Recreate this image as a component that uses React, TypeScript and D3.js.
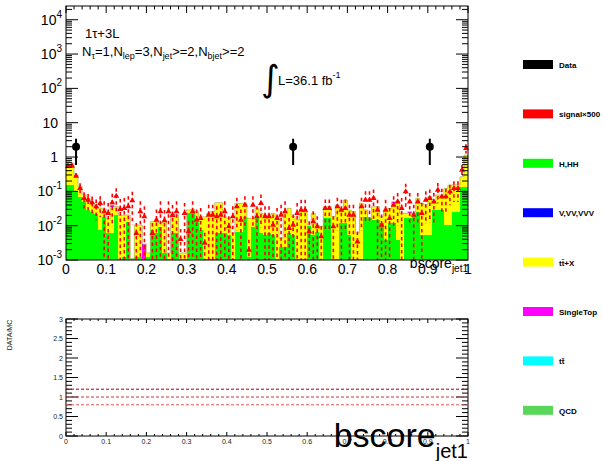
import React from "react";
import * as d3 from "d3";

const W = 603;
const H = 461;

// bin edges: 100 bins of 0.01 over [0,1]
const nBins = 100;
const binWidth = 0.01;

// H,HH (bottom of stack)
const hhh = [
  0.154, 0.154, 0.098, 0.07, 0.05, 0.029, 0.025, 0.022, 0.0075, 0.018,
  0.006, 0.006, 0.02, 0.0011, 0.0012, 0.013, 0.0011, 0.0012, 0.0012, 0.0011,
  0.0012, 0.0075, 0.006, 0.009, 0.0016, 0.0011, 0.006, 0.006, 0.0011, 0.0011,
  0.0229, 0.0229, 0.0131, 0.0075, 0.0011, 0.0011, 0.0011, 0.006, 0.006, 0.006,
  0.0054, 0.0011, 0.0067, 0.0067, 0.0183, 0.00125, 0.0094, 0.0183, 0.006, 0.0054,
  0.006, 0.0054, 0.0011, 0.0024, 0.0024, 0.006, 0.0054, 0.0011, 0.0011, 0.0011,
  0.0095, 0.0054, 0.0067, 0.0011, 0.0164, 0.0164, 0.0011, 0.0011, 0.0117, 0.0117,
  0.0054, 0.0011, 0.0011, 0.0011, 0.0183, 0.0164, 0.0147, 0.0147, 0.0117, 0.0038,
  0.0117, 0.0117, 0.0038, 0.0011, 0.0164, 0.0164, 0.02, 0.0256, 0.0054, 0.0054,
  0.0054, 0.0287, 0.0287, 0.0287, 0.0105, 0.0105, 0.0256, 0.0256, 0.137, 0.137,
];

// ttbar+X (stacked on H,HH)
const ttx = [
  0.59, 0.51, 0.2, 0.067, 0.029, 0.034, 0.022, 0.014, 0.025, 0.012,
  0.01, 0.03, 0.016, 0.019, 0.019, 0.0075, 0, 0.0093, 0.0093, 0,
  0.0004, 0.0056, 0.0071, 0.003, 0.0115, 0.0005, 0.0145, 0.0145, 0.0005, 0.0005,
  0.0058, 0.0071, 0.0125, 0.011, 0.017, 0.022, 0.025, 0.041, 0.041, 0.012,
  0.011, 0.005, 0.038, 0.038, 0.027, 0.015, 0.007, 0.014, 0.017, 0.013,
  0.0145, 0.0175, 0.017, 0.0019, 0.023, 0.026, 0.013, 0.0136, 0.0245, 0.0245,
  0.001, 0.0175, 0.0038, 0.0084, 0.0196, 0.0196, 0.0172, 0.039, 0.014, 0.044,
  0.023, 0.0246, 0.005, 0.044, 0.0104, 0.0005, 0.021, 0.021, 0.0066, 0.025,
  0.02, 0.033, 0.046, 0.022, 0.0065, 0.007, 0.003, 0.037, 0.04, 0.035,
  0.065, 0.021, 0.05, 0.05, 0.11, 0.14, 0.13, 0.13, 0.13, 1.0,
];

// SingleTop (top of stack)
const singleTop = [
  0, 0, 0, 0, 0, 0, 0, 0, 0, 0,
  0, 0.004, 0, 0, 0, 0, 0, 0, 0, 0.0018,
  0, 0, 0, 0, 0, 0, 0.0015, 0, 0, 0,
  0, 0, 0, 0, 0, 0, 0, 0, 0, 0,
  0, 0, 0, 0, 0, 0, 0, 0, 0, 0.002,
  0, 0, 0, 0, 0, 0, 0, 0, 0, 0,
  0, 0, 0, 0, 0, 0, 0, 0, 0, 0,
  0, 0, 0, 0, 0, 0, 0, 0, 0, 0,
  0, 0.005, 0, 0, 0, 0.0022, 0, 0, 0, 0,
  0, 0, 0, 0, 0, 0, 0, 0, 0, 0,
];

// signal x500
const signal = [
  0.55, 0.55, 0.28, 0.123, 0.063, 0.056, 0.047, 0.036, 0.045, 0.0256,
  0.0229, 0.047, 0.073, 0.03, 0.032, 0.036, 0.054, 0.006, 0.0256, 0.0183,
  0, 0.006, 0.0147, 0.0256, 0.0142, 0.0256, 0.02, 0.0256, 0.004, 0.0229,
  0.0067, 0.0256, 0.0147, 0.0164, 0.0031, 0.0205, 0.0205, 0.0183, 0.0205, 0.0256,
  0.0094, 0.0183, 0.036, 0.0147, 0.04, 0.00196, 0.04, 0.0183, 0.045, 0.0183,
  0.0183, 0.0105, 0.0164, 0.0205, 0.0256, 0.0084, 0.0105, 0.0229, 0.0287, 0.0287,
  0.0067, 0.0131, 0.0094, 0.0048, 0.032, 0.032, 0.0094, 0.036, 0.0287, 0.032,
  0.0205, 0.0205, 0.0034, 0.036, 0.056, 0.056, 0.063, 0.0287, 0.0105, 0.0287,
  0.0164, 0.04, 0.05, 0.032, 0.098, 0.05, 0.0205, 0.05, 0.0229, 0.056,
  0.063, 0.05, 0.11, 0.07, 0.07, 0.098, 0.123, 0.123, 0.42, 1.8,
];

// relative uncertainty of the signal
const signalRelErr = [
  0.15, 0.15, 0.2, 0.4, 0.5, 0.5, 0.5, 0.6, 0.6, 1,
  1, 0.8, 0.7, 1, 1, 1, 0.8, 1, 1, 1,
  1, 1, 1, 1, 1, 1, 1, 1, 1, 1,
  1, 1, 1, 1, 1, 1, 1, 1, 1, 1,
  1, 1, 0.8, 1, 0.8, 1, 0.8, 1, 0.8, 1,
  1, 1, 1, 1, 1, 1, 1, 1, 1, 1,
  1, 1, 1, 1, 0.8, 0.8, 1, 0.8, 1, 0.8,
  1, 1, 1, 0.8, 0.8, 0.8, 0.8, 1, 1, 1,
  1, 0.8, 0.8, 1, 0.7, 0.8, 1, 0.8, 1, 0.8,
  0.8, 0.8, 0.6, 0.7, 0.7, 0.6, 0.6, 0.6, 0.4, 0.3,
];

// data: bins holding events
const dataBins = [2, 56, 90];
const dataCounts = [2, 2, 2];

const upperXTicks = [0, 0.1, 0.2, 0.3, 0.4, 0.5, 0.6, 0.7, 0.8, 0.9, 1];
const upperXTickLabels = ["0", "0.1", "0.2", "0.3", "0.4", "0.5", "0.6", "0.7", "0.8", "0.9", "1"];
const decades = [-3, -2, -1, 0, 1, 2, 3, 4];
const lowerYTicks = [0, 0.5, 1, 1.5, 2, 2.5, 3];
const lowerYTickLabels = ["0", "0.5", "1", "1.5", "2", "2.5", "3"];
const ratioLines = [1.2, 1.0, 0.8];
const ratioLineColors = ["#a00000", "#d83030", "#f05050"];

const legendLabels = ["Data", "signal×500", "H,HH", "V,VV,VVV", "tt\u0304+X", "SingleTop", "tt\u0304", "QCD"];
const legendColors = ["#000000", "#ff0000", "#00ff00", "#0000ff", "#ffff00", "#ff00ff", "#00ffff", "#5ad75a"];

const FONT = "'Liberation Sans', Arial, Helvetica, sans-serif";

export default function App() {
  const xU = d3.scaleLinear().domain([0, 1]).range([66, 468]);
  const yMin = 1e-3;
  const yU = d3.scaleLog().domain([yMin, Math.pow(10, 4.4)]).range([260, 6]).clamp(true);
  const yL = d3.scaleLinear().domain([0, 3]).range([436, 319]);

  const bins = d3.range(nBins);
  const table = bins.map((i) => ({ hhh: hhh[i], ttx: ttx[i], st: singleTop[i] }));
  const stack = d3.stack<any>().keys(["hhh", "ttx", "st"])(table);
  const stackColors = ["#00ff00", "#ffff00", "#ff00ff"];

  const yv = (v: number) => yU(Math.max(v, yMin));

  // outline of the total stack
  const outlinePts: [number, number][] = [];
  bins.forEach((i) => {
    const tot = hhh[i] + ttx[i] + singleTop[i];
    outlinePts.push([xU(i * binWidth), yv(tot)]);
    outlinePts.push([xU((i + 1) * binWidth), yv(tot)]);
  });
  const outline = d3.line()(outlinePts) || "";

  // ticks for upper log axis
  const logTicks: { v: number; major: boolean }[] = [];
  decades.forEach((d) => {
    for (let k = 1; k <= 9; k++) {
      const v = k * Math.pow(10, d);
      if (v <= Math.pow(10, 4.4)) logTicks.push({ v, major: k === 1 });
    }
  });
  const xMinor = d3.range(0, 1.0001, 0.02);
  const yLMinor = d3.range(0, 3.0001, 0.1);

  const triangle = d3.symbol().type(d3.symbolTriangle).size(15)() || "";

  return (
    <svg width={W} height={H} style={{ position: "absolute", left: 0, top: 0, background: "#fff" }} fontFamily={FONT}>
      <rect x={0} y={0} width={W} height={H} fill="#fff" />

      {/* upper x-axis title (drawn under the histograms) */}
      <text x={468} y={268} textAnchor="end" fontSize={14} fill="#000">
        bscore<tspan fontSize={10} dy={4}>jet1</tspan>
      </text>

      {/* stacked histograms */}
      {stack.map((layer, li) => (
        <g key={li} fill={stackColors[li]}>
          {layer.map((d, i) => {
            const lo = Math.max(d[0], yMin);
            const hi = d[1];
            if (hi <= lo) return null;
            const x0 = xU(i * binWidth);
            const x1 = xU((i + 1) * binWidth);
            return <rect key={i} x={x0} width={x1 - x0} y={yU(hi)} height={yU(lo) - yU(hi)} shapeRendering="crispEdges" />;
          })}
        </g>
      ))}
      <path d={outline} fill="none" stroke="#b4ae6a" strokeWidth={0.8} />

      {/* signal x500 */}
      <g stroke="#ff0000" fill="#ff0000">
        {bins.map((i) => {
          const v = signal[i];
          if (v <= 0) return null;
          const xc = xU((i + 0.5) * binWidth);
          const e = v * signalRelErr[i];
          const yTop = yv(v + e);
          const yBot = v - e > 0 ? yv(v - e) : yU(yMin);
          return (
            <g key={i}>
              <line x1={xc} x2={xc} y1={yTop} y2={yBot} strokeWidth={1.6} strokeDasharray="3.5,3" />
              <line x1={xU(i * binWidth) + 0.3} x2={xU((i + 1) * binWidth) - 0.3} y1={yU(v)} y2={yU(v)} strokeWidth={1.2} />
              <path d={triangle} transform={`translate(${xc},${yU(v)})`} stroke="none" />
            </g>
          );
        })}
      </g>

      {/* data */}
      <g>
        {dataBins.map((b, j) => {
          const n = dataCounts[j];
          const xc = xU((b + 0.5) * binWidth);
          return (
            <g key={j}>
              <line x1={xc} x2={xc} y1={yv(n + Math.sqrt(n))} y2={yv(n - Math.sqrt(n))} stroke="#000" strokeWidth={2} />
              <circle cx={xc} cy={yU(n)} r={4} fill="#000" />
            </g>
          );
        })}
      </g>

      {/* upper frame and ticks */}
      <rect x={66} y={6} width={402} height={254} fill="none" stroke="#000" strokeWidth={1} />
      {logTicks.map((t, i) => {
        const y = yU(t.v);
        const len = t.major ? 12 : 6;
        return (
          <g key={i} stroke="#000" strokeWidth={1}>
            <line x1={66} x2={66 + len} y1={y} y2={y} />
            <line x1={468} x2={468 - len} y1={y} y2={y} />
          </g>
        );
      })}
      {xMinor.map((v, i) => {
        const major = Math.abs(v * 10 - Math.round(v * 10)) < 1e-6;
        const len = major ? 7 : 3.5;
        return <line key={i} x1={xU(v)} x2={xU(v)} y1={6} y2={6 + len} stroke="#000" strokeWidth={1} />;
      })}

      {/* upper y labels */}
      {decades.map((d) => {
        const y = yU(Math.pow(10, d)) + 5;
        if (d === 0)
          return (
            <text key={d} x={58} y={y} textAnchor="end" fontSize={14}>
              1
            </text>
          );
        if (d === 1)
          return (
            <text key={d} x={58} y={y} textAnchor="end" fontSize={14}>
              10
            </text>
          );
        return (
          <text key={d} x={62} y={y} textAnchor="end" fontSize={14}>
            10<tspan fontSize={10} dy={-7}>{d < 0 ? `-${-d}` : `${d}`}</tspan>
          </text>
        );
      })}
      {/* upper x labels */}
      {upperXTicks.map((v, i) => (
        <text key={i} x={xU(v)} y={274} textAnchor="middle" fontSize={14}>
          {upperXTickLabels[i]}
        </text>
      ))}

      {/* annotation */}
      <text x={85} y={38} fontSize={13}>1τ+3L</text>
      <text x={82} y={56} fontSize={13}>
        N<tspan fontSize={9} dy={3}>τ</tspan>
        <tspan dy={-3}>=1,N</tspan>
        <tspan fontSize={9} dy={3}>lep</tspan>
        <tspan dy={-3}>=3,N</tspan>
        <tspan fontSize={9} dy={3}>jet</tspan>
        <tspan dy={-3}>{">=2,N"}</tspan>
        <tspan fontSize={9} dy={3}>bjet</tspan>
        <tspan dy={-3}>{">=2"}</tspan>
      </text>
      <text x={261} y={91} fontSize={36} fontFamily="'DejaVu Sans', sans-serif">∫</text>
      <text x={278} y={85} fontSize={13}>
        L=36.1 fb<tspan fontSize={9} dy={-7}>-1</tspan>
      </text>

      {/* lower pad */}
      <rect x={66} y={319} width={402} height={117} fill="none" stroke="#000" strokeWidth={1} />
      {yLMinor.map((v, i) => {
        const major = Math.abs(v * 2 - Math.round(v * 2)) < 1e-6;
        const len = major ? 12 : 6;
        const y = yL(v);
        return (
          <g key={i} stroke="#000" strokeWidth={1}>
            <line x1={66} x2={66 + len} y1={y} y2={y} />
            <line x1={468} x2={468 - len} y1={y} y2={y} />
          </g>
        );
      })}
      {xMinor.map((v, i) => {
        const major = Math.abs(v * 10 - Math.round(v * 10)) < 1e-6;
        const len = major ? 4 : 2;
        return (
          <g key={i} stroke="#000" strokeWidth={1}>
            <line x1={xU(v)} x2={xU(v)} y1={319} y2={319 + len} />
            <line x1={xU(v)} x2={xU(v)} y1={436} y2={436 - len} />
          </g>
        );
      })}
      {ratioLines.map((r, i) => (
        <line key={i} x1={66} x2={468} y1={yL(r)} y2={yL(r)} stroke={ratioLineColors[i]} strokeWidth={1} strokeDasharray="3,2" />
      ))}
      {lowerYTicks.map((v, i) => (
        <text key={i} x={63} y={yL(v) + 2.5} textAnchor="end" fontSize={7} fill="#222">
          {lowerYTickLabels[i]}
        </text>
      ))}
      {upperXTicks.map((v, i) => (
        <text key={i} x={xU(v)} y={444} textAnchor="middle" fontSize={7} fill="#222">
          {upperXTickLabels[i]}
        </text>
      ))}
      <text transform="translate(12,335) rotate(-90)" textAnchor="middle" fontSize={7} fill="#222">
        DATA/MC
      </text>
      <text x={468} y={447} textAnchor="end" fontSize={34}>
        bscore<tspan fontSize={20} dy={11}>jet1</tspan>
      </text>

      {/* legend */}
      {legendLabels.map((lab, i) => {
        const y = 60 + i * 49.4;
        return (
          <g key={i}>
            <rect x={523} y={y} width={30} height={9} fill={legendColors[i]} />
            <text x={559} y={y + 8} fontSize={8} fontWeight="bold">
              {lab}
            </text>
          </g>
        );
      })}
    </svg>
  );
}
